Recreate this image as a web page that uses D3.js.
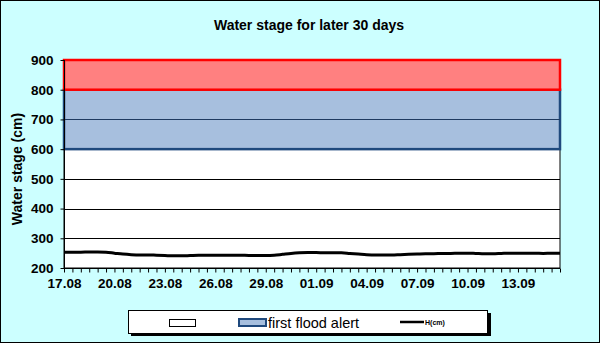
<!DOCTYPE html>
<html>
<head>
<meta charset="utf-8">
<script src="https://cdn.jsdelivr.net/npm/d3@7"></script>
<style>
  html, body { margin: 0; padding: 0; background: #CCFFFF; }
  svg { display: block; font-family: "Liberation Sans", Arial, sans-serif; }
</style>
</head>
<body>
<svg id="chart" width="600" height="343"></svg>
<script>
// Water stage, two readings per day (cm)
const stage = [
  253, 253, 253, 254, 254, 253, 250, 247, 245, 244,
  244, 243, 242, 241, 241, 242, 243, 243, 243, 243,
  243, 243, 242, 242, 242, 243, 246, 249, 251, 252,
  252, 251, 251, 251, 249, 247, 245, 244, 244, 244,
  245, 246, 247, 248, 248, 249, 249, 250, 250, 249,
  248, 248, 249, 250, 250, 250, 250, 249, 250, 250
];

// Date labels, one every third day (every sixth reading)
const dateLabels = ["17.08", "20.08", "23.08", "26.08", "29.08",
                    "01.09", "04.09", "07.09", "10.09", "13.09"];
const labelStep = 6;

// Alert bands: [from, to]
const normalBand = [200, 600];
const firstAlertBand = [600, 800];
const secondAlertBand = [800, 900];

const yTicks = [200, 300, 400, 500, 600, 700, 800, 900];

const svg = d3.select("#chart");
const W = 600, H = 343;
const plot = { left: 64, right: 560, top: 60, bottom: 268 };
const FONT = "Liberation Sans, Arial, sans-serif";

// background frame
svg.append("rect").attr("x", 0.5).attr("y", 0.5).attr("width", W - 1).attr("height", H - 1)
  .attr("fill", "#CCFFFF").attr("stroke", "#000").attr("stroke-width", 1);

const x = d3.scalePoint().domain(d3.range(stage.length)).range([plot.left, plot.right]);
const y = d3.scaleLinear().domain([200, 900]).range([plot.bottom, plot.top]);

// title
svg.append("text").attr("x", 309).attr("y", 30).attr("text-anchor", "middle")
  .attr("font-size", 14).attr("font-weight", "bold").attr("fill", "#000")
  .text("Water stage for later 30 days");

// y axis title
svg.append("text").attr("transform", "translate(22,169) rotate(-90)")
  .attr("text-anchor", "middle").attr("font-size", 14).attr("font-weight", "bold")
  .text("Water stage (cm)");

// plot background
svg.append("rect").attr("x", plot.left).attr("y", plot.top)
  .attr("width", plot.right - plot.left).attr("height", plot.bottom - plot.top)
  .attr("fill", "#fff").attr("stroke", "#000").attr("stroke-width", 1);

// gridlines in the normal band
svg.append("g").selectAll("line").data(yTicks.filter(v => v > normalBand[0] && v < normalBand[1]))
  .join("line")
  .attr("x1", plot.left).attr("x2", plot.right)
  .attr("y1", d => Math.round(y(d)) + 0.5).attr("y2", d => Math.round(y(d)) + 0.5)
  .attr("stroke", "#000").attr("stroke-width", 1);

// first flood alert band
svg.append("rect").attr("x", plot.left).attr("y", y(firstAlertBand[1]))
  .attr("width", plot.right - plot.left).attr("height", y(firstAlertBand[0]) - y(firstAlertBand[1]))
  .attr("fill", "#A7BFDE").attr("stroke", "#1F497D").attr("stroke-width", 2.5);

// gridlines inside first alert band
svg.append("g").selectAll("line").data(yTicks.filter(v => v > firstAlertBand[0] && v < firstAlertBand[1]))
  .join("line")
  .attr("x1", plot.left).attr("x2", plot.right)
  .attr("y1", d => Math.round(y(d)) + 0.5).attr("y2", d => Math.round(y(d)) + 0.5)
  .attr("stroke", "#1F3A60").attr("stroke-width", 1);

// second alert band
svg.append("rect").attr("x", plot.left).attr("y", y(secondAlertBand[1]))
  .attr("width", plot.right - plot.left).attr("height", y(secondAlertBand[0]) - y(secondAlertBand[1]))
  .attr("fill", "#FF8080").attr("stroke", "#FF0000").attr("stroke-width", 2.5);

// stage line
const line = d3.line().x((d, i) => x(i)).y(d => y(d)).curve(d3.curveMonotoneX);
svg.append("path").datum(stage).attr("d", line)
  .attr("fill", "none").attr("stroke", "#000").attr("stroke-width", 3)
  .attr("stroke-linejoin", "round");

// y axis
const yAxis = d3.axisLeft(y).tickValues(yTicks).tickSize(4).tickPadding(7);
const gy = svg.append("g").attr("transform", `translate(${plot.left + 0.5},0)`).call(yAxis);
gy.select(".domain").attr("stroke", "#000").attr("d", `M0,${plot.top}V${plot.bottom}`);
gy.selectAll("text").attr("font-size", 13.5).attr("font-weight", "bold").attr("fill", "#000")
  .attr("font-family", FONT);

// x axis: a tick per reading, a label every third day
const xAxis = d3.axisBottom(x).tickSize(4).tickPadding(6)
  .tickFormat(i => (i % labelStep === 0 ? dateLabels[i / labelStep] : ""));
const gx = svg.append("g").attr("transform", `translate(0,${plot.bottom + 0.5})`).call(xAxis);
gx.select(".domain").attr("stroke", "#000").attr("d", `M${plot.left},0H${plot.right}`);
gx.selectAll("text").attr("font-size", 13.5).attr("font-weight", "bold").attr("fill", "#000")
  .attr("font-family", FONT);

// legend
const lg = svg.append("g");
lg.append("rect").attr("x", 131).attr("y", 313).attr("width", 360).attr("height", 23).attr("fill", "#000");
lg.append("rect").attr("x", 128.5).attr("y", 310.5).attr("width", 359).attr("height", 23)
  .attr("fill", "#fff").attr("stroke", "#000").attr("stroke-width", 1);
lg.append("rect").attr("x", 169.5).attr("y", 319.5).attr("width", 26).attr("height", 7)
  .attr("fill", "#fff").attr("stroke", "#000").attr("stroke-width", 1);
lg.append("rect").attr("x", 239).attr("y", 319).attr("width", 27).attr("height", 7)
  .attr("fill", "#A7BFDE").attr("stroke", "#1F497D").attr("stroke-width", 2);
lg.append("text").attr("x", 268).attr("y", 327.5).attr("font-size", 14.5)
  .attr("fill", "#000").text("first flood alert");
lg.append("line").attr("x1", 400).attr("x2", 424).attr("y1", 322).attr("y2", 322)
  .attr("stroke", "#000").attr("stroke-width", 2.5);
lg.append("text").attr("x", 425).attr("y", 325).attr("font-size", 7).attr("font-weight", "bold")
  .attr("fill", "#000").text("H(cm)");
</script>
</body>
</html>
